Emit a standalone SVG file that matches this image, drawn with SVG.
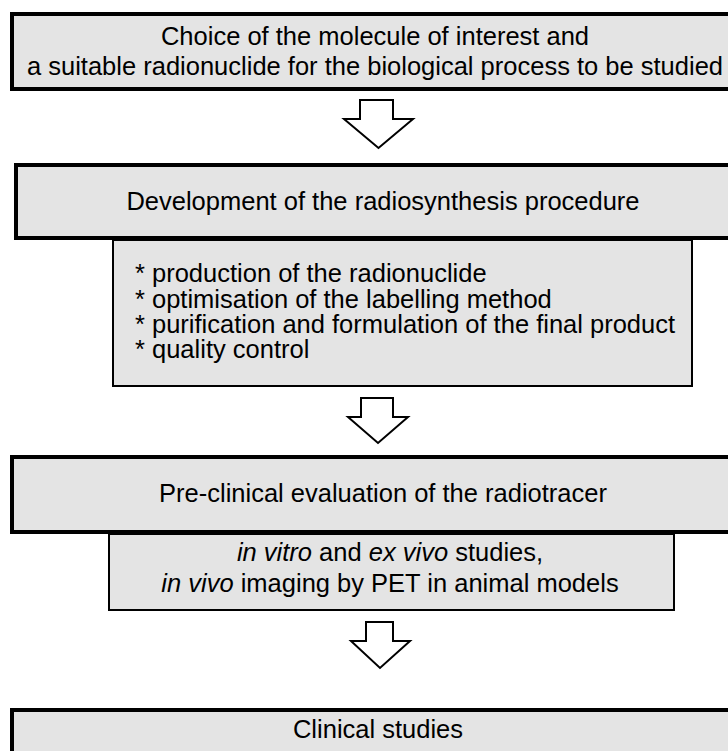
<svg xmlns="http://www.w3.org/2000/svg" width="728" height="751" viewBox="0 0 728 751">
<style>
.main{fill:#e4e4e4;stroke:#000;stroke-width:4}
.sub{fill:#e4e4e4;stroke:#000;stroke-width:2}
.arrow{fill:#fff;stroke:#000;stroke-width:2;stroke-linejoin:miter}
text{font-family:"Liberation Sans",Arial,sans-serif;font-size:25.5px;fill:#000}
.c{text-anchor:middle}
.i{font-style:italic}
</style>
<rect width="728" height="751" fill="#fff"/>
<g id="connectors">
<polygon class="arrow" points="360,100 393,100 393,119 413,119 378.5,148 344,119 360,119"/>
<polygon class="arrow" points="361,398 393,398 393,417 408,417 378,443 348,417 361,417"/>
<polygon class="arrow" points="366,622 393,622 393,641 410,641 380,668 351,641 366,641"/>
</g>
<g id="choice">
<rect class="main" x="12" y="14" width="740" height="75"/>
<text class="c" x="375" y="45">Choice of the molecule of interest and</text>
<text class="c" x="375" y="75">a suitable radionuclide for the biological process to be studied</text>
</g>
<g id="development">
<rect class="main" x="16" y="165" width="740" height="73"/>
<text class="c" x="383" y="210">Development of the radiosynthesis procedure</text>
</g>
<g id="steps">
<rect class="sub" x="113" y="240" width="579" height="146"/>
<text x="135" y="282">* production of the radionuclide</text>
<text x="135" y="308">* optimisation of the labelling method</text>
<text x="135" y="333">* purification and formulation of the final product</text>
<text x="135" y="358">* quality control</text>
</g>
<g id="preclinical">
<rect class="main" x="12" y="457" width="740" height="75"/>
<text class="c" x="383" y="502">Pre-clinical evaluation of the radiotracer</text>
</g>
<g id="preclinical-studies">
<rect class="sub" x="109" y="534" width="565" height="76"/>
<text class="c" x="390" y="561"><tspan class="i">in vitro</tspan> and <tspan class="i">ex vivo</tspan> studies,</text>
<text class="c" x="390" y="592"><tspan class="i">in vivo</tspan> imaging by PET in animal models</text>
</g>
<g id="clinical">
<rect class="main" x="12" y="710" width="740" height="60"/>
<text class="c" x="378" y="738">Clinical studies</text>
</g>
</svg>
